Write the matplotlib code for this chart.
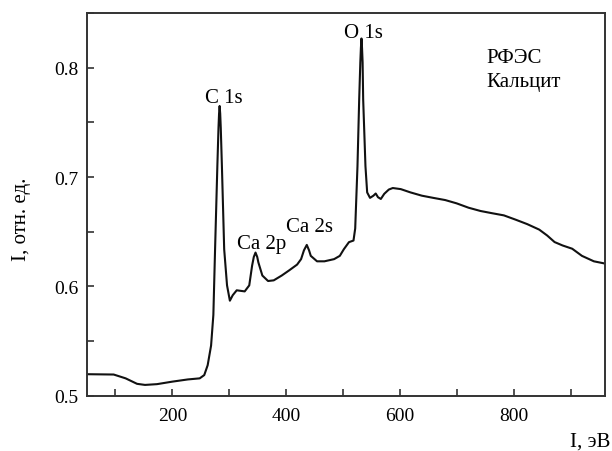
import matplotlib
matplotlib.use('Agg')
import matplotlib.pyplot as plt
from matplotlib.ticker import MultipleLocator

# спектр РФЭС кальцита
energy = [50, 97, 118, 138, 152, 173, 200, 227, 248, 256, 262, 268, 272, 275, 279, 281, 282, 283,
          284, 285, 287, 291, 296, 301, 306, 313, 320, 327, 335, 340, 343, 346, 349, 351, 358, 368,
          378, 392, 405, 419, 426, 431, 436, 440, 443, 454, 467, 484, 494, 501, 510, 518, 521,
          525, 528, 530, 531, 532, 533, 534, 535, 539, 542, 547, 553, 557, 561, 566, 572, 580, 587,
          601, 618, 638, 658, 679, 699, 720, 741, 761, 782, 803, 823, 844, 858, 871, 885, 902,
          919, 940, 959]
intensity = [0.5198, 0.5195, 0.516, 0.511, 0.510, 0.5107, 0.513, 0.515, 0.516, 0.519, 0.528,
             0.546, 0.574, 0.634, 0.710, 0.745, 0.758, 0.765, 0.758, 0.745, 0.710, 0.634, 0.601,
             0.587, 0.592, 0.5965, 0.596, 0.5955, 0.601, 0.619, 0.627, 0.631, 0.627, 0.622,
             0.610, 0.605, 0.6056, 0.610, 0.6147, 0.620, 0.625, 0.633, 0.638, 0.633, 0.628,
             0.623, 0.623, 0.625, 0.628, 0.634, 0.6405, 0.642, 0.653, 0.710, 0.771, 0.805,
             0.818, 0.8267, 0.818, 0.805, 0.771, 0.710, 0.686, 0.681, 0.683, 0.685, 0.6816,
             0.680, 0.6847, 0.6886, 0.690, 0.689, 0.686, 0.683, 0.681, 0.679, 0.676, 0.672,
             0.669, 0.667, 0.665, 0.661, 0.657, 0.652, 0.6466, 0.6406, 0.6375, 0.6345, 0.628,
             0.623, 0.621]

peak_labels = ['C 1s', 'Ca 2p', 'Ca 2s', 'O 1s']
peak_x = [291, 357, 441, 536]
peak_y = [0.769, 0.635, 0.651, 0.828]

plt.rcParams['font.family'] = ['Liberation Serif', 'DejaVu Serif']

fig = plt.figure(figsize=(6.12, 4.52), dpi=100)
ax = fig.add_axes([0.142, 0.122, 0.847, 0.847])

ax.plot(energy, intensity, color='#111111', linewidth=1.5)

for lab, x, y in zip(peak_labels, peak_x, peak_y):
    ax.text(x, y, lab, ha='center', va='baseline', fontsize=15)

ax.text(752, 0.805, 'РФЭС', ha='left', va='baseline', fontsize=15)
ax.text(752, 0.783, 'Кальцит', ha='left', va='baseline', fontsize=15)

ax.set_xlim(50, 960)
ax.set_ylim(0.5, 0.85)
ax.xaxis.set_major_locator(MultipleLocator(200))
ax.xaxis.set_minor_locator(MultipleLocator(100))
ax.yaxis.set_major_locator(MultipleLocator(0.1))
ax.yaxis.set_minor_locator(MultipleLocator(0.05))
ax.tick_params(which='both', direction='in', length=5, width=1.2, labelsize=14,
               top=False, right=False, color='#333333')
ax.tick_params(axis='x', pad=8)
ax.tick_params(axis='y', pad=6)
for s in ax.spines.values():
    s.set_linewidth(1.4)
    s.set_color('#333333')

ax.set_ylabel('I, отн. ед.', fontsize=15)
ax.yaxis.set_label_coords(-0.108, 0.465)
fig.text(0.997, 0.0, 'I, эВ', ha='right', va='bottom', fontsize=15)

fig.savefig('out.png', dpi=100)
